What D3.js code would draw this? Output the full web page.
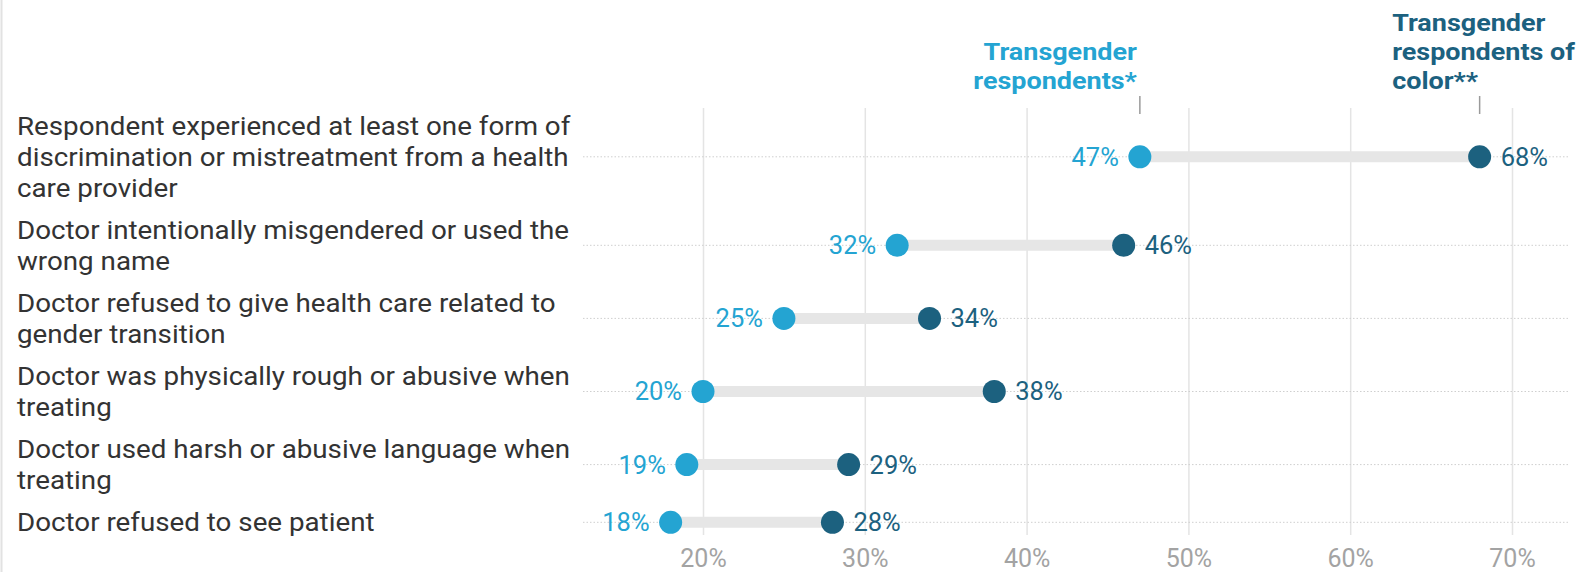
<!DOCTYPE html>
<html>
<head>
<meta charset="utf-8">
<script src="https://cdn.jsdelivr.net/npm/d3@7"></script>
<style>
  body { margin: 0; background: #fff; }
  svg { display: block; font-family: Roboto, "Noto Sans", sans-serif; }
</style>
</head>
<body>
<div id="chart"></div>
<script>
// data
var categories = [
    ["Respondent experienced at least one form of", "discrimination or mistreatment from a health", "care provider"],
    ["Doctor intentionally misgendered or used the", "wrong name"],
    ["Doctor refused to give health care related to", "gender transition"],
    ["Doctor was physically rough or abusive when", "treating"],
    ["Doctor used harsh or abusive language when", "treating"],
    ["Doctor refused to see patient"]
];
var transValues = [47, 32, 25, 20, 19, 18];
var colorValues = [68, 46, 34, 38, 29, 28];
var tickValues = [20, 30, 40, 50, 60, 70];
var seriesNames = [
    ["Transgender", "respondents*"],
    ["Transgender", "respondents of", "color**"]
];

var width = 1581, height = 572;
var lightBlue = "#24a4d2", darkTeal = "#1c617f";

var svg = d3.select("#chart").append("svg")
    .attr("width", width)
    .attr("height", height);

// left border line
svg.append("line")
    .attr("x1", 1.5).attr("x2", 1.5)
    .attr("y1", 0).attr("y2", height)
    .attr("stroke", "#e2e2e2")
    .attr("stroke-width", 2);

var xScale = d3.scaleLinear()
    .domain([20, 70])
    .range([703, 1512]);

// row centres depend on how many lines each label has
var lineH = 30.8, rowGap = 11.5, firstLine = 126;
var centers = [];
var cursor = firstLine;
categories.forEach(function(lines) {
    centers.push(cursor + (lines.length - 1) * lineH / 2);
    cursor += lines.length * lineH + rowGap;
});
var yScale = d3.scaleOrdinal()
    .domain(d3.range(categories.length))
    .range(centers);

var rows = categories.map(function(lines, i) {
    return { i: i, lines: lines, trans: transValues[i], color: colorValues[i] };
});

// grid + tick labels
var gridTop = 108, gridBottom = 535;
var xAxis = d3.axisBottom(xScale)
    .tickValues(tickValues)
    .tickFormat(d => d + "%")
    .tickSizeInner(-(gridBottom - gridTop))
    .tickSizeOuter(0)
    .tickPadding(14);

var axisG = svg.append("g")
    .attr("transform", `translate(0, ${gridBottom})`)
    .call(xAxis);
axisG.select(".domain").remove();
axisG.selectAll(".tick line")
    .attr("stroke", "#e4e4e4")
    .attr("stroke-width", 1.5);
axisG.selectAll(".tick text")
    .attr("fill", "#a3a3a3")
    .style("font-size", "25px")
    .style("font-family", "Roboto");

// dotted row lines
svg.append("g").selectAll("line")
    .data(rows)
    .enter()
    .append("line")
    .attr("x1", 583)
    .attr("x2", 1570)
    .attr("y1", d => yScale(d.i))
    .attr("y2", d => yScale(d.i))
    .attr("stroke", "#cfcfcf")
    .attr("stroke-width", 1)
    .attr("stroke-dasharray", "1.5,2");

// left labels (the source picture is a bit wider than tall, so stretch x)
var labelStretch = 1.08;
var labelG = svg.append("g")
    .attr("transform", `translate(17, 0) scale(${labelStretch}, 1)`);
rows.forEach(function(d) {
    var top = yScale(d.i) - (d.lines.length - 1) * lineH / 2;
    labelG.append("text")
        .attr("fill", "#333")
        .style("font-size", "25.7px")
        .selectAll("tspan")
        .data(d.lines)
        .enter()
        .append("tspan")
        .attr("x", 0)
        .attr("y", (l, j) => top + j * lineH)
        .attr("dy", "0.35em")
        .text(l => l);
});

// range bars
svg.append("g").selectAll("line")
    .data(rows)
    .enter()
    .append("line")
    .attr("x1", d => xScale(d.trans))
    .attr("x2", d => xScale(d.color))
    .attr("y1", d => yScale(d.i))
    .attr("y2", d => yScale(d.i))
    .attr("stroke", "#e6e6e6")
    .attr("stroke-width", 11);

// dots
var radius = 11.5;
svg.append("g").selectAll("circle")
    .data(rows)
    .enter()
    .append("circle")
    .attr("cx", d => xScale(d.trans))
    .attr("cy", d => yScale(d.i))
    .attr("r", radius)
    .attr("fill", lightBlue);

svg.append("g").selectAll("circle")
    .data(rows)
    .enter()
    .append("circle")
    .attr("cx", d => xScale(d.color))
    .attr("cy", d => yScale(d.i))
    .attr("r", radius)
    .attr("fill", darkTeal);

// value labels
var labelOffset = 21;
svg.append("g").selectAll("text")
    .data(rows)
    .enter()
    .append("text")
    .attr("x", d => xScale(d.trans) - labelOffset)
    .attr("y", d => yScale(d.i))
    .attr("dy", "0.35em")
    .attr("text-anchor", "end")
    .attr("fill", lightBlue)
    .style("font-size", "25.5px")
    .text(d => d.trans + "%");

svg.append("g").selectAll("text")
    .data(rows)
    .enter()
    .append("text")
    .attr("x", d => xScale(d.color) + labelOffset)
    .attr("y", d => yScale(d.i))
    .attr("dy", "0.35em")
    .attr("fill", darkTeal)
    .style("font-size", "25.5px")
    .text(d => d.color + "%");

// series headers with little pointer ticks
var headLineH = 29, headBottom = 80, headStretch = 1.1;
var headValues = [transValues[0], colorValues[0]];
var headColors = [lightBlue, darkTeal];

headValues.forEach(function(v, k) {
    var hx = xScale(v);
    svg.append("line")
        .attr("x1", hx).attr("x2", hx)
        .attr("y1", 96).attr("y2", 114)
        .attr("stroke", "#9a9a9a")
        .attr("stroke-width", 1.5);

    var lines = seriesNames[k];
    var t = svg.append("text")
        .attr("fill", headColors[k])
        .style("font-size", "24.5px")
        .style("font-weight", "bold");
    var spans = t.selectAll("tspan")
        .data(lines)
        .enter()
        .append("tspan")
        .attr("x", 0)
        .attr("y", (l, j) => headBottom - (lines.length - 1 - j) * headLineH)
        .attr("dy", "0.35em")
        .text(l => l);

    if (k === 0) {
        t.attr("text-anchor", "end")
            .attr("transform", `translate(${hx - 3}, 0) scale(${headStretch}, 1)`);
    } else {
        var w = d3.max(spans.nodes(), n => n.getComputedTextLength()) * headStretch;
        var left = Math.min(hx, width - 6 - w);
        t.attr("transform", `translate(${left}, 0) scale(${headStretch}, 1)`);
    }
});
</script>
</body>
</html>
